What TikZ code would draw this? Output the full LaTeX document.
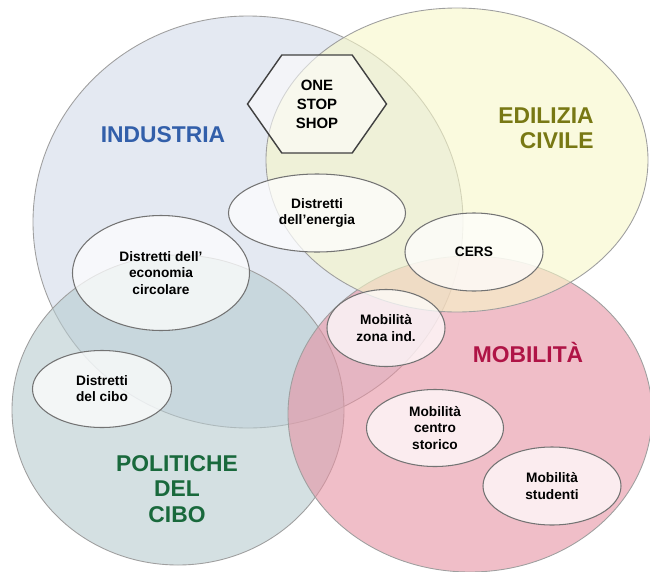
\documentclass[tikz,border=0pt]{standalone}
\usepackage{fontspec}
\setmainfont{Liberation Sans}
\usetikzlibrary{shapes.geometric,shapes.symbols}

\definecolor{indfill}{RGB}{210,218,233}
\definecolor{polfill}{RGB}{183,203,207}
\definecolor{mobfill}{RGB}{230,147,163}
\definecolor{edifill}{RGB}{247,247,200}
\definecolor{indtext}{RGB}{50,95,170}
\definecolor{editext}{RGB}{120,120,20}
\definecolor{mobtext}{RGB}{175,20,70}
\definecolor{poltext}{RGB}{25,105,60}

\begin{document}
\begin{tikzpicture}
        [x=0.02cm,y=-0.02cm,
         area/.style={draw=gray!75,line width=0.5pt,fill opacity=0.6},
         topic/.style={font=\fontsize{13}{14.5}\selectfont\bfseries,align=center},
         bubble/.style={ellipse,draw=gray!90!black,line width=0.6pt,fill=white,fill opacity=0.72,
                        text opacity=1,inner sep=0pt,align=center,
                        font=\fontsize{7.8}{9.2}\selectfont\bfseries},
         bsize/.style 2 args={minimum width=#1*0.02cm,minimum height=#2*0.02cm},
         hexa/.style={signal,signal to=west and east,signal pointer angle=110,
                      draw=black!75,line width=0.8pt,fill=white,fill opacity=0.55,text opacity=1,
                      inner sep=0pt,align=center,font=\fontsize{8.5}{10.8}\selectfont\bfseries}]
        \useasboundingbox (0,0) rectangle (650,572);

        % the four fields
        \draw[area,fill=indfill] (248,222) ellipse [x radius=215,y radius=206];
        \draw[area,fill=polfill] (178,410) ellipse [x radius=166,y radius=155];
        \draw[area,fill=mobfill] (470,414) ellipse [x radius=182,y radius=158];
        \draw[area,fill=edifill] (457,160) ellipse [x radius=191,y radius=152];

        \node[topic,text=indtext] (industria) at (163,135) {INDUSTRIA};
        \node[topic,text=editext,align=right] (edilizia) at (546,128) {EDILIZIA\\CIVILE};
        \node[topic,text=mobtext] (mobilita) at (528,352) {MOBILITÀ};
        \node[topic,text=poltext] (politiche) at (177,489) {POLITICHE\\DEL\\CIBO};

        % projects
        \node[hexa,bsize={139}{98}] (onestop) at (317,104) {ONE\\STOP\\SHOP};
        \node[bubble,bsize={177}{78}] (energia) at (317,213) {Distretti\\dell'energia};
        \node[bubble,bsize={138}{78}] (cers) at (474,252) {CERS};
        \node[bubble,bsize={177}{115}] (circolare) at (161,273) {Distretti dell'\\economia\\circolare};
        \node[bubble,bsize={139}{77}] (cibo) at (102,389) {Distretti\\del cibo};
        \node[bubble,bsize={118}{77}] (zonaind) at (386,328) {Mobilità\\zona ind.};
        \node[bubble,bsize={137}{77}] (centro) at (435,428) {Mobilità\\centro\\storico};
        \node[bubble,bsize={138}{78}] (studenti) at (552,486) {Mobilità\\studenti};

      \end{tikzpicture}
\end{document}
